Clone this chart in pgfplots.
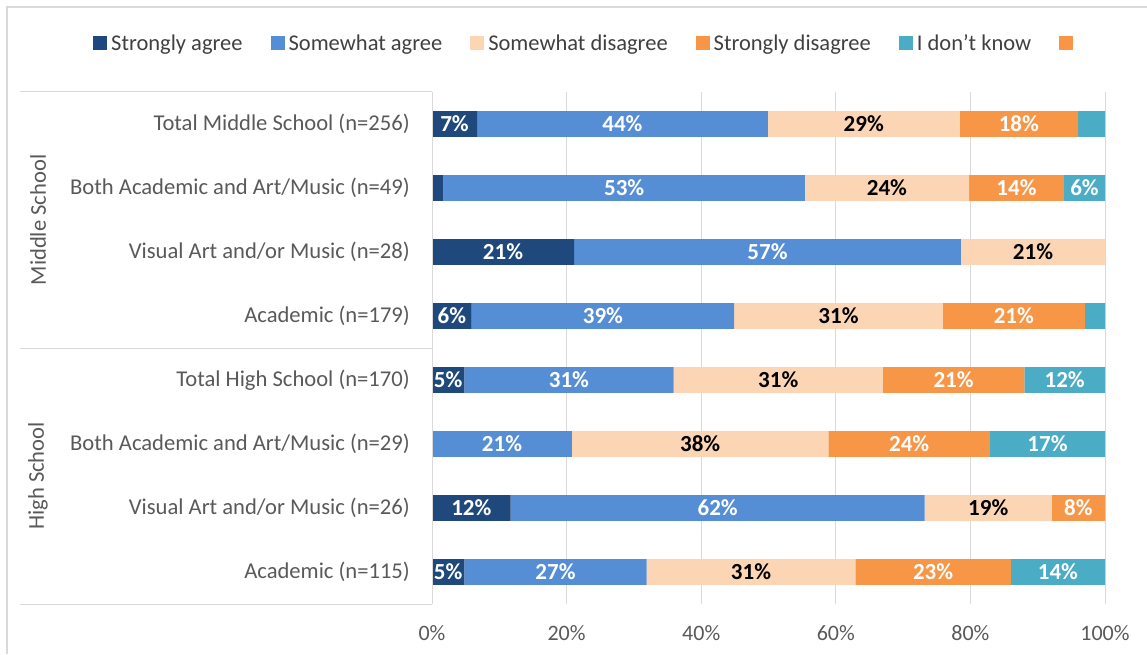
\documentclass[border=0pt]{standalone}
\usepackage{pgfplots}
\pgfplotsset{compat=1.18}
\usepackage{pgfplotstable}
\usepackage{fontspec}
\setmainfont{Carlito}
\definecolor{cSA}{HTML}{1F497D}
\definecolor{cA}{HTML}{558ED5}
\definecolor{cD}{HTML}{FCD5B5}
\definecolor{cSD}{HTML}{F79646}
\definecolor{cIDK}{HTML}{4BACC6}
\definecolor{lineg}{HTML}{D9D9D9}
\definecolor{txtg}{HTML}{595959}
\definecolor{legtxt}{HTML}{404040}
\def\nolab{n}
\newcommand\mylab[1]{\edef\tmp{#1}\ifx\tmp\nolab\else\tmp\%\fi}
\pgfplotsset{sqleg/.style={legend image code/.code={\fill[##1] (0pt,-7pt) rectangle (14pt,7pt);}}}

\pgfplotstableread{
y w lab
7 6.7 7
6 1.7 n
5 21.1 21
4 5.9 6
3 4.8 5
2 0 n
1 11.7 12
0 4.8 5
}\tSA
\pgfplotstableread{
y w lab
7 43.2 44
6 53.7 53
5 57.5 57
4 39.0 39
3 31.1 31
2 20.8 21
1 61.5 62
0 27.1 27
}\tA
\pgfplotstableread{
y w lab
7 28.5 29
6 24.4 24
5 21.4 21
4 31.0 31
3 31.1 31
2 38.1 38
1 18.9 19
0 31.0 31
}\tD
\pgfplotstableread{
y w lab
7 17.6 18
6 14.1 14
5 0 0
4 21.1 21
3 21.0 21
2 24.0 24
1 7.9 8
0 23.1 23
}\tSD
\pgfplotstableread{
y w lab
7 4.0 n
6 6.1 6
5 0 n
4 3.0 n
3 12.0 12
2 17.1 17
1 0 n
0 14.0 14
}\tIDK

\begin{document}
\begin{tikzpicture}[x=1pt,y=1pt]
\useasboundingbox (0,0) rectangle (1147,654);
\begin{axis}[
  at={(432pt,50pt)}, anchor=south west,
  width=673pt, height=512pt, scale only axis,
  xbar stacked, bar width=0.4,
  xmin=0, xmax=100, ymin=-0.5, ymax=7.5,
  axis line style={draw=none},
  major tick length=0pt,
  xtick={0,20,40,60,80,100},
  xticklabels={0\%,20\%,40\%,60\%,80\%,100\%},
  ytick={0,1,2,3,4,5,6,7},
  yticklabels={Academic (n=115),Visual Art and/or Music (n=26),Both Academic and Art/Music (n=29),Total High School (n=170),Academic (n=179),Visual Art and/or Music (n=28),Both Academic and Art/Music (n=49),Total Middle School (n=256)},
  xmajorgrids, grid style={lineg, line width=1pt},
  tick label style={text=txtg},
  xticklabel style={font=\fontsize{22}{26}\selectfont, anchor=base, inner sep=0pt, yshift=-36pt},
  yticklabel style={font=\fontsize{22.6}{26}\selectfont, anchor=east, inner sep=0pt, xshift=-22pt},
  point meta=explicit symbolic,
  nodes near coords={\mylab{\pgfplotspointmeta}},
  every node near coord/.append style={anchor=center, inner sep=0pt, font=\bfseries\fontsize{23}{26}\selectfont},
  legend columns=6,
  legend style={at={(-0.5037,1.0957)}, anchor=west, draw=none, fill=none, inner sep=0pt,
    font=\fontsize{22.5}{26}\selectfont, nodes={inner sep=2pt, text=legtxt},
    /tikz/every odd column/.append style={column sep=2pt},
    /tikz/every even column/.append style={column sep=26pt}},
  clip=false,
]
\addplot[sqleg, fill=cSA, draw=none, text=white] table[x=w, y=y, meta=lab] {\tSA};
\addlegendentry{Strongly agree}
\addplot[sqleg, fill=cA, draw=none, text=white] table[x=w, y=y, meta=lab] {\tA};
\addlegendentry{Somewhat agree}
\addplot[sqleg, fill=cD, draw=none, text=black] table[x=w, y=y, meta=lab] {\tD};
\addlegendentry{Somewhat disagree}
\addplot[sqleg, fill=cSD, draw=none, text=white] table[x=w, y=y, meta=lab] {\tSD};
\addlegendentry{Strongly disagree}
\addplot[sqleg, fill=cIDK, draw=none, text=white] table[x=w, y=y, meta=lab] {\tIDK};
\addlegendentry{I don’t know}
\addlegendimage{sqleg, fill=cSD, draw=none}
\addlegendentry{\mbox{}}
\end{axis}
\draw[lineg, line width=1.5pt] (7,0) -- (7,647) -- (1147,647);
\draw[lineg, line width=1pt] (20,562) -- (432,562);
\draw[lineg, line width=1pt] (20,306) -- (432,306);
\draw[lineg, line width=1pt] (20,50) -- (432,50);
\draw[lineg, line width=1pt] (432,50) -- (432,562);
\node[rotate=90, font=\fontsize{22.6}{26}\selectfont, text=txtg] at (38,434) {Middle School};
\node[rotate=90, font=\fontsize{22.6}{26}\selectfont, text=txtg] at (38,178) {High School};
\end{tikzpicture}
\end{document}
